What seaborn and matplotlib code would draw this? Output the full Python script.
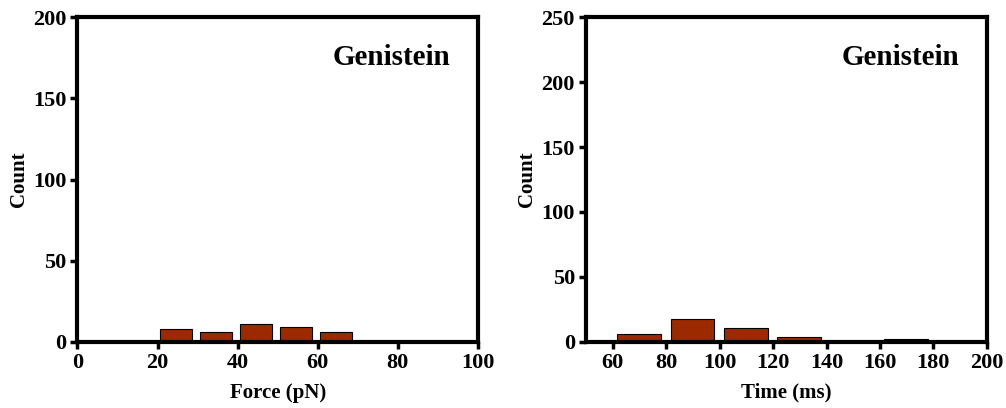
import numpy as np
import pandas as pd
import seaborn as sns
from matplotlib import pyplot as plt

# histogram data
force_centers = [24.6, 34.6, 44.6, 54.6, 64.6]
force_counts = [8, 6, 11, 9, 6]
time_centers = [69.8, 89.8, 109.8, 129.8, 149.8, 169.8]
time_counts = [6, 18, 11, 4, 0, 2]

force_ticks = [0, 20, 40, 60, 80, 100]
force_yticks = [0, 50, 100, 150, 200]
time_ticks = [60, 80, 100, 120, 140, 160, 180, 200]
time_yticks = [0, 50, 100, 150, 200, 250]

sns.set_style("white")
plt.rcParams['font.family'] = ['Liberation Serif', 'DejaVu Serif']
plt.rcParams['font.weight'] = 'bold'
plt.rcParams['axes.labelweight'] = 'bold'
for k in ['text.color', 'axes.labelcolor', 'xtick.color', 'ytick.color']:
    plt.rcParams[k] = 'black'

bar_color = '#9B2A00'

fig = plt.figure(figsize=(10.06, 4.08), dpi=100)
ax1 = fig.add_axes([0.077, 0.162, 0.398, 0.796])
ax2 = fig.add_axes([0.5825, 0.162, 0.3985, 0.796])

df1 = pd.DataFrame({'x': force_centers, 'count': force_counts})
df2 = pd.DataFrame({'x': time_centers, 'count': time_counts})

sns.barplot(data=df1, x='x', y='count', native_scale=True, width=0.8,
            color=bar_color, saturation=1, edgecolor='black', linewidth=0.8,
            errorbar=None, ax=ax1)
sns.barplot(data=df2, x='x', y='count', native_scale=True, width=0.815,
            color=bar_color, saturation=1, edgecolor='black', linewidth=0.8,
            errorbar=None, ax=ax2)

def style(ax, xlim, ylim, xt, yt, xlabel):
    ax.set_xlim(*xlim)
    ax.set_ylim(*ylim)
    ax.set_xticks(xt)
    ax.set_yticks(yt)
    ax.set_xticklabels([str(v) for v in xt], fontsize=16, fontweight='bold')
    ax.set_yticklabels([str(v) for v in yt], fontsize=16, fontweight='bold')
    ax.set_xlabel(xlabel, fontsize=15, fontweight='bold', labelpad=7)
    ax.set_ylabel('Count', fontsize=15, fontweight='bold', labelpad=3)
    for s in ax.spines.values():
        s.set_linewidth(3)
        s.set_color('black')
    ax.tick_params(direction='out', length=5, width=2.5, pad=3, bottom=True, left=True)
    ax.text(0.785, 0.877, 'Genistein', transform=ax.transAxes, ha='center', va='center',
            fontsize=21, fontweight='bold')

style(ax1, (0, 100), (0, 200), force_ticks, force_yticks, 'Force (pN)')
style(ax2, (50, 200), (0, 250), time_ticks, time_yticks, 'Time (ms)')

plt.savefig('out.png', dpi=100)
